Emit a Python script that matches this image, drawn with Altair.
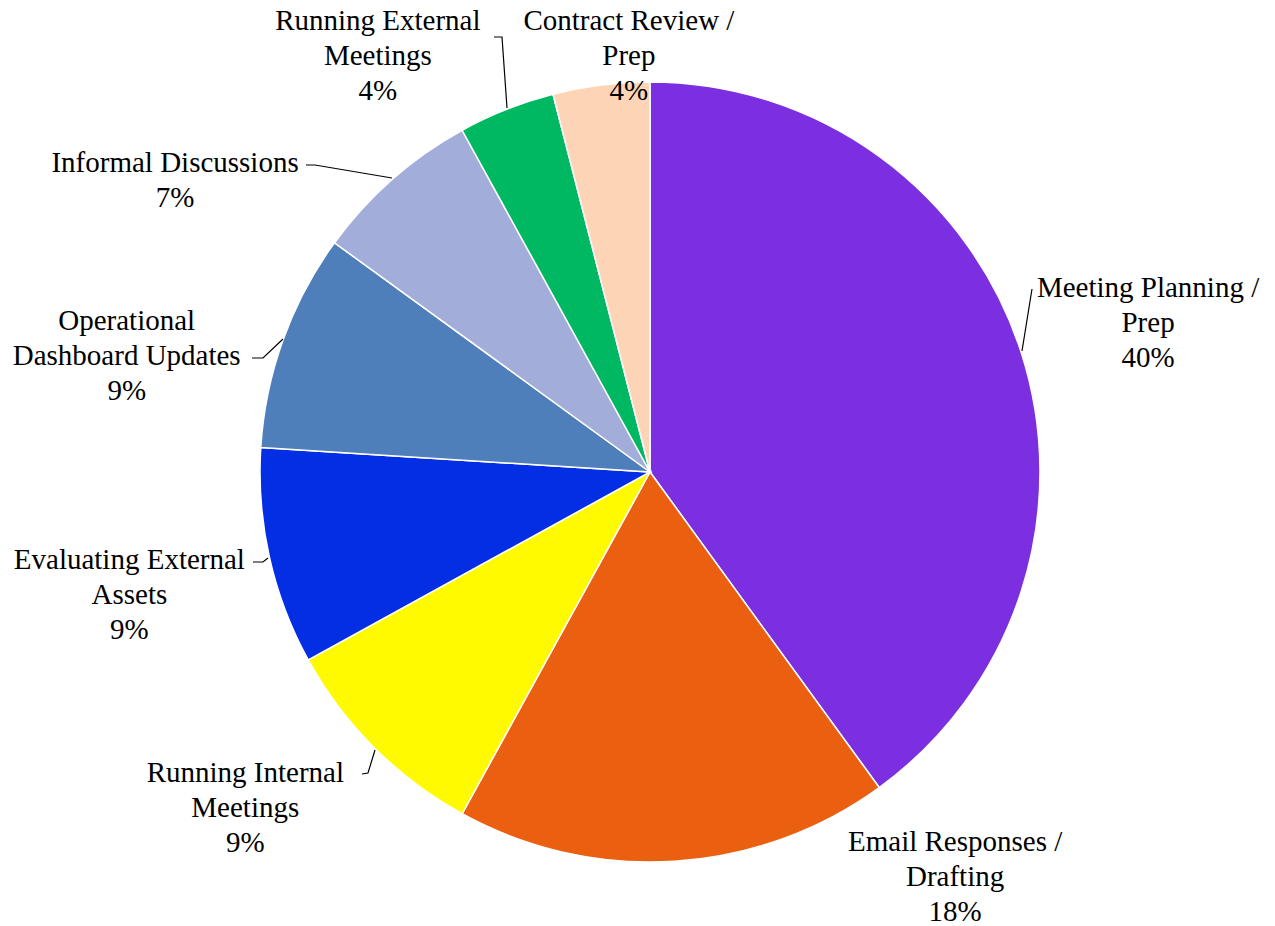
import math
import altair as alt
import pandas as pd

# ---- data ----
categories = [
    "Meeting Planning / Prep",
    "Email Responses / Drafting",
    "Running Internal Meetings",
    "Evaluating External Assets",
    "Operational Dashboard Updates",
    "Informal Discussions",
    "Running External Meetings",
    "Contract Review / Prep",
]
values = [40, 18, 9, 9, 9, 7, 4, 4]
label_lines = [
    ["Meeting Planning /", "Prep"],
    ["Email Responses /", "Drafting"],
    ["Running Internal", "Meetings"],
    ["Evaluating External", "Assets"],
    ["Operational", "Dashboard Updates"],
    ["Informal Discussions"],
    ["Running External", "Meetings"],
    ["Contract Review /", "Prep"],
]
colors = ["#7B2FE0", "#EB6010", "#FFFA00", "#042EE3",
          "#4F7FBA", "#A3ADDA", "#00B862", "#FED4B6"]

# ---- layout (pixels / degrees) ----
W, H = 1259, 914
CX, CY = 642, 464
R = 390
LH = 35
label_angle_shift = [1.3, -33.4, 5.3, -0.7, -7.3, -17.1, -11.6, 4.3]
label_radius = [520, 507, 526, 535, 536, 557, 497, 417]
# leader lines, page pixel offsets relative to pie centre
leaders = [
    [(382, -183), (372, -121)],
    [],
    [(-288, 302), (-282, 301), (-275, 278)],
    [(-397, 90), (-387, 90), (-382, 86)],
    [(-398, -114), (-387, -114), (-367, -133)],
    [(-344, -307), (-335, -307), (-258, -294)],
    [(-156, -435), (-148, -435), (-143, -364)],
    [],
]

total = sum(values)
cum = 0
rows = []
lab_rows = []
lead_rows = []
for i, (c, v) in enumerate(zip(categories, values)):
    mid = (cum + v / 2) / total * 360
    cum += v
    rows.append({"cat": c, "value": v, "idx": i})
    a = math.radians(mid + label_angle_shift[i])
    r = label_radius[i]
    lines = label_lines[i] + [f"{round(v / total * 100)}%"]
    lab_rows.append({
        "text": "\n".join(lines),
        "lx": CX + r * math.sin(a),
        "ly": CY - r * math.cos(a) - (len(lines) - 1) / 2 * LH,
    })
    for j, (dx, dy) in enumerate(leaders[i]):
        lead_rows.append({"g": i, "o": j, "px": CX + dx, "py": CY + dy})

df = pd.DataFrame(rows)
lab = pd.DataFrame(lab_rows)
lead = pd.DataFrame(lead_rows)

shadow_layers = []
for off, rad, op in [(4, 392, 0.10), (3, 391, 0.14), (2, 390, 0.18)]:
    shadow_layers.append(
        alt.Chart(pd.DataFrame({"t": [1]})).mark_arc(
            outerRadius=rad, color="#808080", opacity=op
        ).encode(
            theta=alt.Theta("t:Q"),
            x=alt.value(CX + off - 1),
            y=alt.value(CY + off),
        )
    )

pie = alt.Chart(df).mark_arc(
    outerRadius=R, stroke="white", strokeWidth=1.5
).encode(
    theta=alt.Theta("value:Q", stack=True),
    order=alt.Order("idx:Q"),
    color=alt.Color("cat:N", scale=alt.Scale(domain=categories, range=colors), legend=None),
    x=alt.value(CX),
    y=alt.value(CY),
)

labels = alt.Chart(lab).mark_text(
    font="Liberation Serif", fontSize=29, lineHeight=LH, lineBreak="\n",
    align="center", baseline="middle", color="black"
).encode(
    x=alt.X("lx:Q", scale=None, axis=None),
    y=alt.Y("ly:Q", scale=None, axis=None),
    text="text:N",
)

leader_lines = alt.Chart(lead).mark_line(color="black", strokeWidth=1.2).encode(
    x=alt.X("px:Q", scale=None, axis=None),
    y=alt.Y("py:Q", scale=None, axis=None),
    detail="g:N",
    order="o:Q",
)

chart = alt.layer(*shadow_layers, pie, leader_lines, labels).properties(
    width=W, height=H, autosize=alt.AutoSizeParams(type="none"), padding=0
).configure_view(stroke=None)

chart.save("out.html", embed_options={"renderer": "svg", "actions": False})
